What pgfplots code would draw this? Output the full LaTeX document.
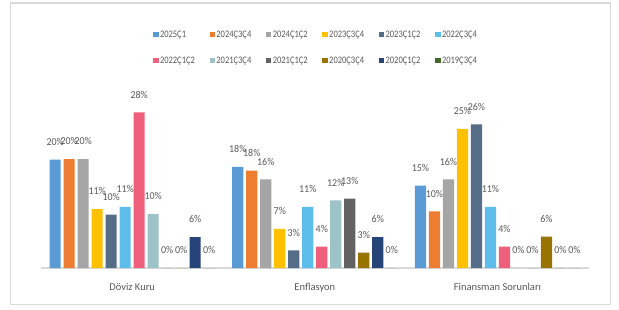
\documentclass[border=0pt]{standalone}
\usepackage{fontspec}
\setmainfont{Carlito}
\newfontfamily\narrowfont{Carlito}[FakeStretch=0.85]
\newfontfamily\labelfont{Carlito}[FakeStretch=0.95]
\usepackage{pgfplots}
\pgfplotsset{compat=1.18}
\definecolor{c1}{HTML}{5B9BD5}
\definecolor{c2}{HTML}{ED7D31}
\definecolor{c3}{HTML}{A5A5A5}
\definecolor{c4}{HTML}{FFC000}
\definecolor{c5}{HTML}{556D86}
\definecolor{c6}{HTML}{5DBDEA}
\definecolor{c7}{HTML}{EF5F7B}
\definecolor{c8}{HTML}{9DC3C8}
\definecolor{c9}{HTML}{626262}
\definecolor{c10}{HTML}{997300}
\definecolor{c11}{HTML}{264478}
\definecolor{c12}{HTML}{43682B}
\definecolor{axisgray}{HTML}{D9D9D9}
\definecolor{framegray}{HTML}{D9D9D9}
\definecolor{labelgray}{HTML}{595959}
\newcommand{\legtxt}[1]{\makebox[49.6bp][l]{\rule[-3bp]{0pt}{10bp}#1}}
\begin{document}
\begin{tikzpicture}
\begin{axis}[
  at={(0,0)}, anchor=south west, scale only axis,
  width=548bp, height=181.5bp,
  ymin=0, ymax=33, xmin=-0.5, xmax=2.5,
  ybar=2.8bp, bar width=11.2bp,
  axis y line=none, axis x line*=bottom,
  x axis line style={-, color=axisgray, line width=1.5bp},
  xtick={0,1,2}, xticklabels={Döviz Kuru, Enflasyon, Finansman Sorunları},
  xtick style={draw=none},
  xticklabel style={font=\fontsize{10.5bp}{12bp}\selectfont, text=labelgray, inner sep=0pt, anchor=north, yshift=-11bp},
  /pgf/number format/assume math mode=true,
  nodes near coords={\pgfmathprintnumber[fixed,precision=0]{\pgfplotspointmeta}\%},
  every node near coord/.append style={font=\labelfont\fontsize{10.5bp}{12bp}\selectfont, text=labelgray, inner sep=0pt, yshift=14bp},
  legend columns=6,
  legend cell align=left,
  legend image code/.code={\fill[#1] (0bp,-2.65bp) rectangle (5.3bp,2.65bp);},
  legend style={at={(0.1993,1.3207)}, anchor=north west, draw=none, fill=none,
    font=\narrowfont\fontsize{10bp}{12bp}\selectfont, text=labelgray,
    nodes={inner sep=0pt}, column sep=0pt, row sep=17.4bp,
    /tikz/every odd column/.append style={column sep=1.5bp}},
]
\addplot[fill=c1, draw=none] coordinates {(0,19.7) (1,18.4) (2,15.0)};
\addlegendentry{\legtxt{2025Ç1}}
\addplot[fill=c2, draw=none] coordinates {(0,19.8) (1,17.7) (2,10.3)};
\addlegendentry{\legtxt{2024Ç3Ç4}}
\addplot[fill=c3, draw=none] coordinates {(0,19.8) (1,16.1) (2,16.1)};
\addlegendentry{\legtxt{2024Ç1Ç2}}
\addplot[fill=c4, draw=none] coordinates {(0,10.7) (1,7.1) (2,25.3)};
\addlegendentry{\legtxt{2023Ç3Ç4}}
\addplot[fill=c5, draw=none] coordinates {(0,9.7) (1,3.2) (2,26.1)};
\addlegendentry{\legtxt{2023Ç1Ç2}}
\addplot[fill=c6, draw=none] coordinates {(0,11.1) (1,11.1) (2,11.1)};
\addlegendentry{\legtxt{2022Ç3Ç4}}
\addplot[fill=c7, draw=none] coordinates {(0,28.3) (1,3.9) (2,3.9)};
\addlegendentry{\legtxt{2022Ç1Ç2}}
\addplot[fill=c8, draw=none] coordinates {(0,9.8) (1,12.3) (2,0)};
\addlegendentry{\legtxt{2021Ç3Ç4}}
\addplot[fill=c9, draw=none] coordinates {(0,0) (1,12.6) (2,0)};
\addlegendentry{\legtxt{2021Ç1Ç2}}
\addplot[fill=c10, draw=none] coordinates {(0,0) (1,2.8) (2,5.7)};
\addlegendentry{\legtxt{2020Ç3Ç4}}
\addplot[fill=c11, draw=none] coordinates {(0,5.6) (1,5.6) (2,0)};
\addlegendentry{\legtxt{2020Ç1Ç2}}
\addplot[fill=c12, draw=none] coordinates {(0,0) (1,0) (2,0)};
\addlegendentry{\legtxt{2019Ç3Ç4}}
\end{axis}
\begin{scope}[x=1bp,y=1bp]
\path (-40.8,-41) rectangle (578.2,268);
\draw[framegray, line width=1.5bp] (-30.3,265.25) rectangle (569.7,-36.25);
\end{scope}
\end{tikzpicture}
\end{document}
